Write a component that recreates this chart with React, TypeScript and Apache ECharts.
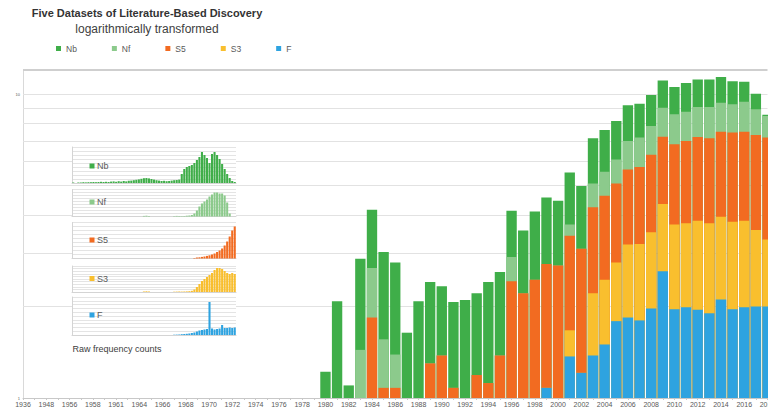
import React, { useEffect, useRef } from "react";
import * as echarts from "echarts";

// ---------- categories (x axis) ----------
const years = [
  "1936", "1947", "1948", "1955", "1956", "1957", "1958", "1960", "1961", "1963", "1964", "1965",
  "1966", "1967", "1968", "1969", "1970", "1971", "1972", "1973", "1974", "1975", "1976", "1977", "1978", "1979",
  "1980", "1981", "1982", "1983", "1984", "1985", "1986", "1987", "1988", "1989",
  "1990", "1991", "1992", "1993", "1994", "1995", "1996", "1997", "1998", "1999",
  "2000", "2001", "2002", "2003", "2004", "2005", "2006", "2007", "2008", "2009",
  "2010", "2011", "2012", "2013", "2014", "2015", "2016", "2017", "2018",
];

// ---------- log-transformed values (main stacked chart) ----------
// index 0..25 = 1936..1979 (nothing visible), then 1980..2018
const fLog = [
  null, null, null, null, null, null, null, null, null, null, null, null, null,
  null, null, null, null, null, null, null, null, null, null, null, null, null,
  null, null, null, null, null, null, null, null, null, null,
  null, null, null, null, null, null, null, null, null, 1.08,
  null, 1.37, 1.21, 1.38, 1.5, 1.79, 1.84, 1.8, 1.97, 2.61,
  1.96, 1.99, 1.95, 1.9, 2.11, 1.96, 1.99, 2.0, 2.0,
];
const s3Log = [
  null, null, null, null, null, null, null, null, null, null, null, null, null,
  null, null, null, null, null, null, null, null, null, null, null, null, null,
  null, null, null, null, null, null, null, null, null, null,
  null, null, null, null, null, null, null, null, null, null,
  null, 0.3, null, 0.83, 0.95, 1.0, 1.36, 1.41, 1.54, 1.74,
  1.76, 1.77, 1.88, 1.86, 1.84, 1.84, 1.84, 1.57, 1.32,
];
const s5Log = [
  null, null, null, null, null, null, null, null, null, null, null, null, null,
  null, null, null, null, null, null, null, null, null, null, null, null, null,
  null, null, null, null, 1.84, 1.08, 1.08, null, null, 1.3,
  1.38, 1.08, null, 1.19, 1.12, 1.38, 2.42, 2.21, 2.45, 1.68,
  2.73, 1.75, 1.89, 2.03, 2.18, 2.29, 2.45, 2.55, 2.8, 2.89,
  3.12, 3.25, 3.4, 3.4, 3.57, 3.67, 3.69, 3.77, 3.87,
];
const nfLog = [
  null, null, null, null, null, null, null, null, null, null, null, null, null,
  null, null, null, null, null, null, null, null, null, null, null, null, null,
  null, null, null, 1.44, 0.84, 0.48, 0.31, null, null, null,
  null, null, null, null, null, null, 0.49, null, null, null,
  null, 0.3, null, 0.84, 0.92, 1.01, 1.36, 1.43, 1.54, 1.78,
  1.74, 1.74, 1.84, 1.91, 1.85, 1.78, 1.92, 1.57, 1.28,
];
const nbLog = [
  null, null, null, null, null, null, null, null, null, null, null, null, null,
  null, null, null, null, null, null, null, null, null, null, null, null, null,
  1.22, 2.08, 1.1, 1.43, 1.48, 1.46, 1.4, 1.64, 2.08, 1.11,
  0.95, 0.99, 2.1, 1.02, 1.29, 1.22, 1.22, 1.35, 1.66, 1.81,
  1.73, 1.8, 1.88, 2.08, 2.07, 2.07, 2.17, 2.11, 2.08, 2.07,
  1.96, 2.12, 2.1, 2.1, 2.02, 1.78, 1.53, 1.11, 0.08,
];

// ---------- raw frequency counts (inset small multiples, relative units) ----------
const nbRaw = [
  0.5, 0, 0.5, 0.5, 0.8, 0.6, 0.8, 0.8, 1, 0.8, 1, 1.2,
  1, 1.2, 1, 1.4, 1.6, 1.2, 1.8, 1.4, 2, 1.6, 2.2, 2.4, 2.8, 3.2,
  3.6, 4.2, 4.8, 5, 4.6, 4, 3.4, 2.8,
  2.4, 2, 2.2, 1.8, 2, 2.4, 2.8, 3,
  3.4, 9, 14, 16, 17, 18, 20, 23,
  26, 31, 28, 25, 20, 29, 31, 28,
  24, 19, 14, 9, 5, 2, 1,
];
const nfRaw = [
  0, 0, 0, 0, 0, 0, 0, 0, 0, 0, 0, 0, 0, 0, 0, 0, 0, 0, 0, 0, 0, 0, 0, 0, 0, 0, 0, 0,
  0.6, 0.8, 0.5,
  0, 0, 0, 0, 0, 0, 0, 0, 0,
  0.4, 0.6, 0.5, 0.4, 0.5, 0.8, 1, 1.5, 3, 6, 10, 13, 15, 17, 20, 22, 24, 24, 23, 23, 21, 14, 3, 0, 0,
];
const s5Raw = [
  0, 0, 0, 0, 0, 0, 0, 0, 0, 0, 0, 0, 0, 0, 0, 0, 0, 0, 0, 0, 0, 0, 0, 0,
  0, 0, 0, 0, 0, 0, 0, 0, 0, 0, 0, 0, 0, 0, 0, 0, 0, 0, 0, 0, 0, 0, 0, 0,
  0.5, 1, 1.2, 1.6, 2, 2.6, 3.2, 4, 5, 6.5, 8, 10, 13, 17, 22, 28, 32,
];
const s3Raw = [
  0, 0, 0, 0, 0, 0, 0, 0, 0, 0, 0, 0, 0, 0, 0, 0, 0, 0, 0, 0, 0, 0, 0, 0, 0, 0, 0, 0,
  0.5, 0.7, 0.5,
  0, 0, 0, 0, 0, 0, 0, 0, 0,
  0.3, 0.4, 0.5, 0.4, 0.5, 0.6, 0.8, 1.2, 2.5, 5, 8, 11, 13, 15, 17, 19, 22, 24, 24, 23, 21, 19, 18, 19, 18,
];
const fRaw = [
  0, 0, 0, 0, 0, 0, 0, 0, 0, 0, 0, 0, 0, 0, 0, 0, 0, 0, 0, 0,
  0, 0, 0, 0, 0, 0, 0, 0, 0, 0, 0, 0, 0, 0, 0, 0, 0, 0, 0, 0,
  0.3, 0.4, 0.5, 0.8, 1, 1.2, 1.5, 2, 2.5, 3.5, 4.5, 5, 5.5, 6, 33,
  6.5, 5.5, 6, 6.5, 10, 7, 7, 7.5, 7, 7.5,
];

// ---------- gridline values on the log axis ----------
const logGridValues = [2, 3, 4, 5, 6, 7, 8, 9, 10];
const logAxisMax = 12;

const seriesNames = ["Nb", "Nf", "S5", "S3", "F"];
const colors: Record<string, string> = {
  Nb: "#3fae49",
  Nf: "#8cca8c",
  S5: "#f26b21",
  S3: "#f9bf2e",
  F: "#2ea3e0",
};

const FONT = "Liberation Sans";

export default function App() {
  const ref = useRef<HTMLDivElement>(null);

  useEffect(() => {
    if (!ref.current) return;
    const chart = echarts.init(ref.current, undefined, { renderer: "svg" });

    // stacking bottom -> top: F, S3, S5, Nf, Nb (cumulative sums, drawn overlapped)
    const stackOrder: [string, (number | null)[]][] = [
      ["F", fLog],
      ["S3", s3Log],
      ["S5", s5Log],
      ["Nf", nfLog],
      ["Nb", nbLog],
    ];
    const running = years.map(() => 0);
    const cumulative: Record<string, (number | null)[]> = {};
    stackOrder.forEach(([name, arr]) => {
      cumulative[name] = years.map((_, i) => {
        running[i] += arr[i] ?? 0;
        return running[i] > 0 ? +running[i].toFixed(3) : null;
      });
    });

    // inset panels: [name, data, top, height, max, interval]
    const panels: [string, number[], number, number, number, number][] = [
      ["Nb", nbRaw, 147, 36, 36, 4],
      ["Nf", nfRaw, 189.5, 27, 27, 3],
      ["S5", s5Raw, 222.5, 36, 36, 4],
      ["S3", s3Raw, 266, 26, 26, 2.6],
      ["F", fRaw, 297, 38, 38, 3.8],
    ];

    const grids: any[] = [
      {
        left: 23,
        right: 0.5,
        top: 70,
        bottom: 15,
        containLabel: false,
        outerBoundsMode: "none",
      },
    ];
    const xAxes: any[] = [
      {
        type: "category",
        data: years,
        boundaryGap: false,
        axisLine: { lineStyle: { color: "#c8c8c8", width: 1 } },
        axisTick: { show: true, interval: 0, length: 2, lineStyle: { color: "#c8c8c8" } },
        axisLabel: { interval: 1, fontSize: 7, color: "#595959", margin: 3, fontFamily: FONT, hideOverlap: false },
        splitLine: { show: false },
      },
    ];
    const yAxes: any[] = [
      {
        type: "log",
        logBase: 10,
        min: 1,
        max: logAxisMax,
        axisLine: { show: true, lineStyle: { color: "#d9d9d9" } },
        axisTick: { show: false },
        axisLabel: { fontSize: 4, color: "#595959", margin: 3, showMaxLabel: false, fontFamily: FONT },
        splitLine: { show: false },
      },
    ];

    // draw from the top of the stack down so that lower segments overlay
    const drawOrder = [...stackOrder].reverse();
    const series: any[] = drawOrder.map(([name], i) => {
      const s: any = {
        name,
        type: "bar",
        data: cumulative[name],
        xAxisIndex: 0,
        yAxisIndex: 0,
        barGap: "-100%",
        barCategoryGap: "11%",
        itemStyle: { color: colors[name] },
        clip: true,
      };
      if (i === 0) {
        s.markLine = {
          silent: true,
          z: 1,
          symbol: ["none", "none"],
          label: { show: false },
          animation: false,
          data: [
            ...logGridValues.map((v) => ({ yAxis: v, lineStyle: { color: "#e2e2e2", width: 1, type: "solid" } })),
            { yAxis: logAxisMax, lineStyle: { color: "#cfcfcf", width: 2, type: "solid" } },
          ],
        };
      }
      return s;
    });

    panels.forEach(([name, data, top, height, max, interval], k) => {
      const gi = k + 1;
      grids.push({
        left: 72,
        top,
        width: 164,
        height,
        show: true,
        backgroundColor: "#ffffff",
        borderWidth: 0,
        z: 2,
        outerBoundsMode: "none",
      });
      xAxes.push({
        type: "category",
        gridIndex: gi,
        data: years,
        z: 3,
        axisLine: { show: true, lineStyle: { color: "#d4d4d4" } },
        axisTick: { show: false },
        axisLabel: { show: false },
      });
      yAxes.push({
        type: "value",
        gridIndex: gi,
        min: 0,
        max,
        interval,
        z: 3,
        axisLine: { show: true, lineStyle: { color: "#d4d4d4" } },
        axisTick: { show: false },
        axisLabel: { show: false },
        splitLine: { show: true, lineStyle: { color: "#e4e4e4", width: 1 } },
      });
      series.push({
        name: name + " counts",
        type: "bar",
        xAxisIndex: gi,
        yAxisIndex: gi,
        data,
        z: 4,
        barCategoryGap: "18%",
        itemStyle: { color: colors[name] },
      });
    });

    const insetLabels: [string, number][] = [
      ["Nb", 166],
      ["Nf", 202],
      ["S5", 240],
      ["S3", 278.5],
      ["F", 315],
    ];
    const graphics: any[] = [];
    insetLabels.forEach(([name, y]) => {
      graphics.push({
        type: "rect",
        z: 10,
        shape: { x: 89.5, y: y - 2.5, width: 5, height: 5 },
        style: { fill: colors[name] },
      });
      graphics.push({
        type: "text",
        z: 10,
        x: 97,
        y,
        style: { text: name, fontSize: 9, fill: "#595959", fontFamily: FONT, verticalAlign: "middle" },
      });
    });
    graphics.push({
      type: "text",
      z: 10,
      x: 72.5,
      y: 348.5,
      style: {
        text: "Raw frequency counts",
        fontSize: 9,
        fill: "#404040",
        fontFamily: FONT,
        verticalAlign: "middle",
      },
    });

    chart.setOption({
      animation: false,
      backgroundColor: "#ffffff",
      textStyle: { fontFamily: FONT },
      title: [
        {
          text: "Five Datasets of Literature-Based Discovery",
          left: 147,
          top: 7,
          textAlign: "center",
          padding: 0,
          textStyle: { fontSize: 11, fontWeight: "bold", color: "#333333", fontFamily: FONT },
        },
        {
          text: "logarithmically transformed",
          left: 147,
          top: 22.5,
          textAlign: "center",
          padding: 0,
          textStyle: { fontSize: 12, fontWeight: "normal", color: "#404040", fontFamily: FONT },
        },
      ],
      legend: {
        data: seriesNames,
        left: 56,
        top: 44,
        padding: 0,
        icon: "rect",
        itemWidth: 5,
        itemHeight: 5,
        itemGap: 35,
        textStyle: { fontSize: 8.5, color: "#595959", fontFamily: FONT },
        selectedMode: false,
      },
      grid: grids,
      xAxis: xAxes,
      yAxis: yAxes,
      series,
      graphic: graphics,
    });

    return () => chart.dispose();
  }, []);

  return (
    <div
      ref={ref}
      style={{ position: "fixed", left: 0, top: 0, width: 768, height: 413, background: "#fff" }}
    />
  );
}
